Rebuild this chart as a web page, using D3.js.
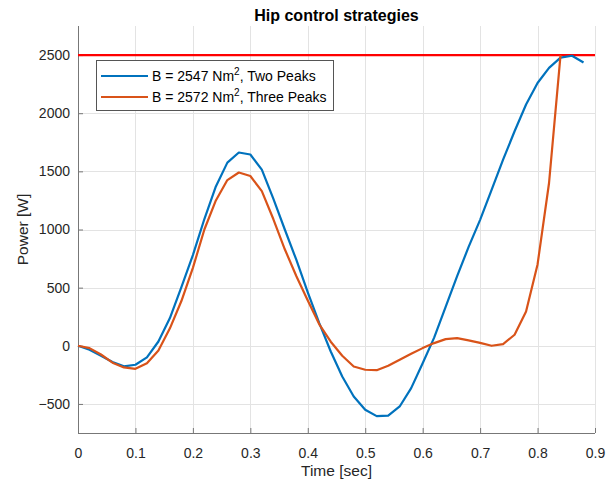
<!DOCTYPE html>
<html>
<head>
<meta charset="utf-8">
<script src="https://cdn.jsdelivr.net/npm/d3@7"></script>
<style>
  html, body { margin: 0; padding: 0; background: #fff; }
  svg { display: block; font-family: "Liberation Sans", Arial, Helvetica, sans-serif; }
</style>
</head>
<body>
<svg id="chart" width="613" height="487"></svg>
<script>
// Time samples (s) and hip power (W) for each control strategy
const timeTwoPeaks = [0, 0.02, 0.04, 0.06, 0.08, 0.10, 0.12, 0.14, 0.16, 0.18, 0.20, 0.22, 0.24, 0.26, 0.28, 0.30, 0.32, 0.34, 0.36, 0.38, 0.40, 0.42, 0.44, 0.46, 0.48, 0.50, 0.52, 0.54, 0.56, 0.58, 0.60, 0.62, 0.64, 0.66, 0.68, 0.70, 0.72, 0.74, 0.76, 0.78, 0.80, 0.82, 0.84, 0.86, 0.88];
const powerTwoPeaks = [0, -34, -85, -140, -177, -163, -100, 37, 238, 505, 780, 1090, 1370, 1575, 1662, 1645, 1515, 1265, 1000, 740, 460, 195, -49, -264, -436, -550, -605, -600, -522, -364, -150, 70, 335, 600, 850, 1083, 1340, 1600, 1845, 2075, 2260, 2390, 2478, 2494, 2436];

const timeThreePeaks = [0, 0.02, 0.04, 0.06, 0.08, 0.10, 0.12, 0.14, 0.16, 0.18, 0.20, 0.22, 0.24, 0.26, 0.28, 0.30, 0.32, 0.34, 0.36, 0.38, 0.40, 0.42, 0.44, 0.46, 0.48, 0.50, 0.52, 0.54, 0.56, 0.58, 0.60, 0.62, 0.64, 0.66, 0.68, 0.70, 0.72, 0.74, 0.76, 0.78, 0.80, 0.82, 0.84];
const powerThreePeaks = [0, -20, -75, -145, -186, -198, -150, -40, 150, 385, 670, 1000, 1250, 1425, 1490, 1460, 1330, 1090, 830, 600, 390, 185, 35, -86, -178, -206, -210, -172, -120, -69, -20, 23, 57, 66, 46, 25, 0, 15, 95, 295, 700, 1400, 2500];

// Power limit line
const limitTime = [0, 0.9];
const limitPower = [2500, 2500];

const seriesLabels = ["B = 2547 Nm", "B = 2572 Nm"];
const seriesSuffix = [", Two Peaks", ", Three Peaks"];
const seriesColors = ["#0072BD", "#D95319"];

const xTicks = [0, 0.1, 0.2, 0.3, 0.4, 0.5, 0.6, 0.7, 0.8, 0.9];
const yTicks = [-500, 0, 500, 1000, 1500, 2000, 2500];

const svg = d3.select("#chart");
const plot = { left: 78, right: 595, top: 26, bottom: 433 };

const x = d3.scaleLinear().domain([0, 0.9]).range([plot.left, plot.right]);
const y = d3.scaleLinear().domain([-750, 2750]).range([plot.bottom, plot.top]);

// Grid
const grid = svg.append("g").attr("stroke", "#e3e3e3").attr("stroke-width", 1);
grid.selectAll("line.v").data(xTicks).join("line")
  .attr("x1", d => Math.round(x(d)) + 0.5).attr("x2", d => Math.round(x(d)) + 0.5)
  .attr("y1", plot.top).attr("y2", plot.bottom);
grid.selectAll("line.h").data(yTicks).join("line")
  .attr("y1", d => Math.round(y(d)) + 0.5).attr("y2", d => Math.round(y(d)) + 0.5)
  .attr("x1", plot.left).attr("x2", plot.right);

// Axes (inward ticks)
const xAxis = d3.axisBottom(x).tickValues(xTicks).tickFormat(d => d === 0 ? "0" : d3.format(".1f")(d))
  .tickSizeInner(-5).tickSizeOuter(0).tickPadding(15);
const yAxis = d3.axisLeft(y).tickValues(yTicks).tickFormat(d3.format("d"))
  .tickSizeInner(-5).tickSizeOuter(0).tickPadding(8);

const gx = svg.append("g").attr("transform", `translate(0,${plot.bottom})`).call(xAxis);
const gy = svg.append("g").attr("transform", `translate(${plot.left},0)`).call(yAxis);
[gx, gy].forEach(g => {
  g.select(".domain").attr("stroke", "#777");
  g.selectAll(".tick line").attr("stroke", "#777");
  g.selectAll(".tick text").attr("fill", "#262626").style("font-size", "14px")
    .style("font-family", "'Liberation Sans', Arial, sans-serif");
});
gy.select(".domain").attr("d", `M0.5,${plot.bottom}V${plot.top}`);
gx.select(".domain").attr("d", `M${plot.left},0.5H${plot.right}`);

// Lines
const line = d3.line().x(d => x(d[0])).y(d => y(d[1]));
svg.append("path")
  .datum(limitTime.map((t, i) => [t, limitPower[i]]))
  .attr("d", line).attr("fill", "none").attr("stroke", "#FF0000").attr("stroke-width", 2.2);
svg.append("path")
  .datum(timeTwoPeaks.map((t, i) => [t, powerTwoPeaks[i]]))
  .attr("d", line).attr("fill", "none").attr("stroke", seriesColors[0]).attr("stroke-width", 2.2)
  .attr("stroke-linejoin", "round");
svg.append("path")
  .datum(timeThreePeaks.map((t, i) => [t, powerThreePeaks[i]]))
  .attr("d", line).attr("fill", "none").attr("stroke", seriesColors[1]).attr("stroke-width", 2.2)
  .attr("stroke-linejoin", "round");

// Title and axis labels
svg.append("text").attr("x", (plot.left + plot.right) / 2).attr("y", 21)
  .attr("text-anchor", "middle").attr("font-weight", "bold").attr("font-size", 16).attr("fill", "#000")
  .text("Hip control strategies");
svg.append("text").attr("x", (plot.left + plot.right) / 2).attr("y", 476)
  .attr("text-anchor", "middle").attr("font-size", 15.5).attr("fill", "#262626")
  .text("Time [sec]");
svg.append("text")
  .attr("transform", `translate(28,${(plot.top + plot.bottom) / 2}) rotate(-90)`)
  .attr("text-anchor", "middle").attr("font-size", 15.5).attr("fill", "#262626")
  .text("Power [W]");

// Legend
const legend = svg.append("g");
legend.append("rect").attr("x", 96.5).attr("y", 60.5).attr("width", 237).attr("height", 50)
  .attr("fill", "#fff").attr("stroke", "#555").attr("stroke-width", 1);
seriesLabels.forEach((lab, i) => {
  const yy = 76 + i * 21;
  legend.append("line").attr("x1", 101).attr("x2", 148).attr("y1", yy).attr("y2", yy)
    .attr("stroke", seriesColors[i]).attr("stroke-width", 2.2);
  const t = legend.append("text").attr("x", 152).attr("y", yy + 5)
    .attr("font-size", 14).attr("fill", "#000");
  t.append("tspan").text(lab);
  t.append("tspan").attr("font-size", 10).attr("dy", -6).text("2");
  t.append("tspan").attr("dy", 6).text(seriesSuffix[i]);
});
</script>
</body>
</html>
